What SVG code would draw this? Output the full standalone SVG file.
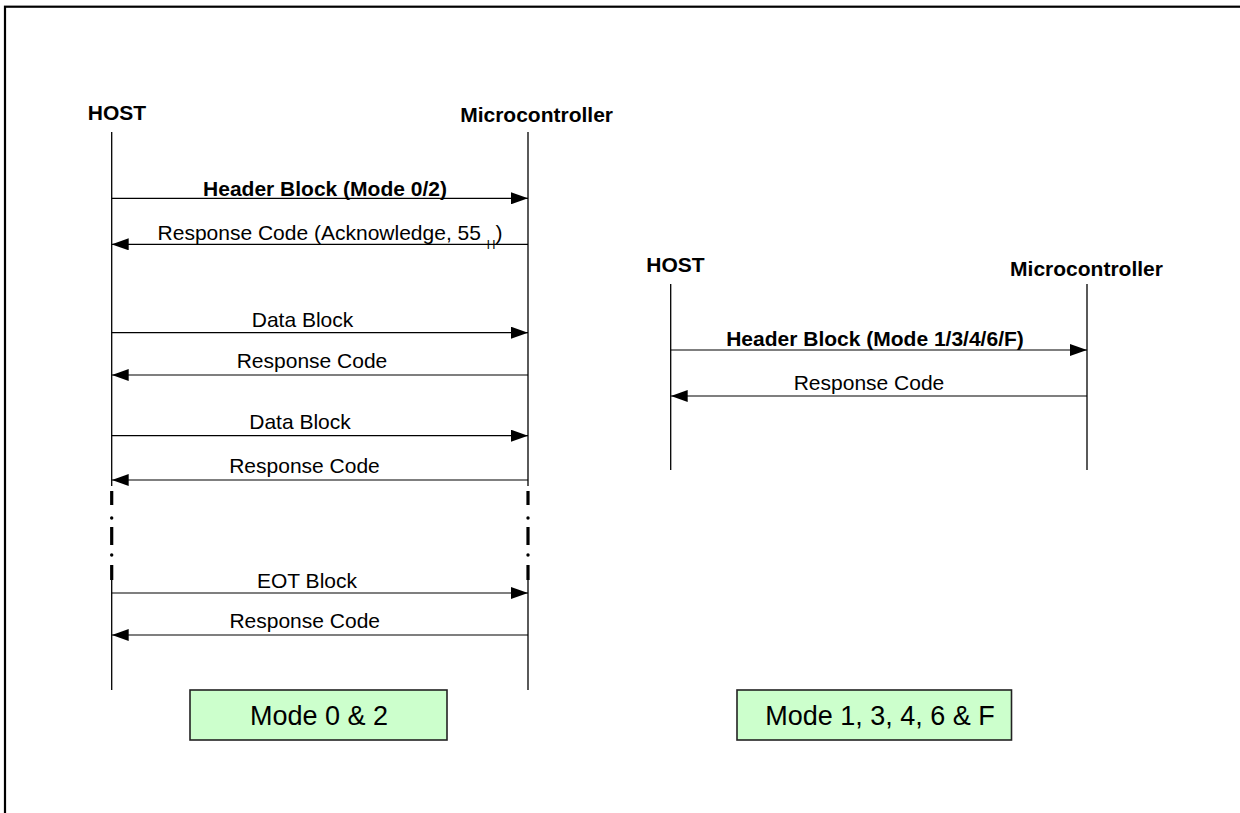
<svg xmlns="http://www.w3.org/2000/svg" width="1240" height="813" viewBox="0 0 1240 813">
  <style>
    text { font-family: "Liberation Sans", Arial, sans-serif; fill: #000; }
    .title { font-size: 21px; font-weight: bold; }
    .msg { font-size: 21px; text-anchor: middle; }
    .bmsg { font-size: 21px; font-weight: bold; text-anchor: middle; }
    .life { stroke: #000; stroke-width: 1.3; fill: none; }
    .dash { stroke: #000; stroke-width: 3.2; stroke-linecap: butt; fill: none; }
    .dot { fill: #000; }
    .arrow { stroke: #000; stroke-width: 1.2; fill: none; marker-end: url(#ah); }
    .mode { fill: #CCFFCC; stroke: #222; stroke-width: 1.6; }
    .modet { font-size: 27px; text-anchor: middle; }
  </style>
  <defs>
    <marker id="ah" markerUnits="userSpaceOnUse" markerWidth="17" markerHeight="12" refX="17" refY="6" orient="auto">
      <path d="M0,0 L17,6 L0,12 z" fill="#000"/>
    </marker>
  </defs>

  <rect x="0" y="0" width="1240" height="813" fill="#fff"/>
  <rect id="frame" x="5" y="6.7" width="1260" height="830" fill="none" stroke="#000" stroke-width="2.2"/>

  <!-- Left diagram lifelines -->
  <g id="host-left">
    <text class="title" x="117" y="120" text-anchor="middle">HOST</text>
    <line class="life" x1="111.7" y1="132" x2="111.7" y2="486"/>
    <line class="dash" x1="111.7" y1="491" x2="111.7" y2="505"/>
    <circle class="dot" cx="111.7" cy="518" r="1.7"/>
    <line class="dash" x1="111.7" y1="527" x2="111.7" y2="545"/>
    <circle class="dot" cx="111.7" cy="555" r="1.7"/>
    <line class="dash" x1="111.7" y1="565" x2="111.7" y2="580"/>
    <line class="life" x1="111.7" y1="580" x2="111.7" y2="690"/>
  </g>
  <g id="mcu-left">
    <text class="title" x="536.6" y="122" text-anchor="middle">Microcontroller</text>
    <line class="life" x1="528" y1="132" x2="528" y2="486"/>
    <line class="dash" x1="528" y1="491" x2="528" y2="505"/>
    <circle class="dot" cx="528" cy="518" r="1.7"/>
    <line class="dash" x1="528" y1="527" x2="528" y2="545"/>
    <circle class="dot" cx="528" cy="555" r="1.7"/>
    <line class="dash" x1="528" y1="565" x2="528" y2="580"/>
    <line class="life" x1="528" y1="580" x2="528" y2="690"/>
  </g>

  <!-- Right diagram lifelines -->
  <g id="host-right">
    <text class="title" x="675.5" y="272" text-anchor="middle">HOST</text>
    <line class="life" x1="670.7" y1="284" x2="670.7" y2="470"/>
  </g>
  <g id="mcu-right">
    <text class="title" x="1086.5" y="276" text-anchor="middle">Microcontroller</text>
    <line class="life" x1="1087" y1="284" x2="1087" y2="470"/>
  </g>

  <!-- Connectors -->
  <g id="connectors">
    <line class="arrow" x1="111.7" y1="198.3" x2="528" y2="198.3"/>
    <line class="arrow" x1="528" y1="244.3" x2="111.7" y2="244.3"/>
    <line class="arrow" x1="111.7" y1="332.7" x2="528" y2="332.7"/>
    <line class="arrow" x1="528" y1="375" x2="111.7" y2="375"/>
    <line class="arrow" x1="111.7" y1="435.7" x2="528" y2="435.7"/>
    <line class="arrow" x1="528" y1="480" x2="111.7" y2="480"/>
    <line class="arrow" x1="111.7" y1="593" x2="528" y2="593"/>
    <line class="arrow" x1="528" y1="635" x2="111.7" y2="635"/>

    <line class="arrow" x1="670.7" y1="350" x2="1087" y2="350"/>
    <line class="arrow" x1="1087" y1="396" x2="670.7" y2="396"/>

    <text class="bmsg" x="325" y="196">Header Block (Mode 0/2)</text>
    <text class="msg" x="330" y="240">Response Code (Acknowledge, 55 <tspan font-size="12" dy="9">H</tspan><tspan dy="-9">)</tspan></text>
    <text class="msg" x="302.5" y="327">Data Block</text>
    <text class="msg" x="312" y="368">Response Code</text>
    <text class="msg" x="300" y="429">Data Block</text>
    <text class="msg" x="304.5" y="473">Response Code</text>
    <text class="msg" x="307" y="587.7">EOT Block</text>
    <text class="msg" x="304.7" y="628.3">Response Code</text>

    <text class="bmsg" x="875" y="346">Header Block (Mode 1/3/4/6/F)</text>
    <text class="msg" x="869" y="390">Response Code</text>
  </g>

  <!-- Mode boxes -->
  <g id="mode02">
    <rect class="mode" x="190" y="690" width="257" height="50"/>
    <text class="modet" x="319" y="725">Mode 0 &amp; 2</text>
  </g>
  <g id="mode1346F">
    <rect class="mode" x="737" y="690" width="274.5" height="50"/>
    <text class="modet" x="880" y="725">Mode 1, 3, 4, 6 &amp; F</text>
  </g>
</svg>
